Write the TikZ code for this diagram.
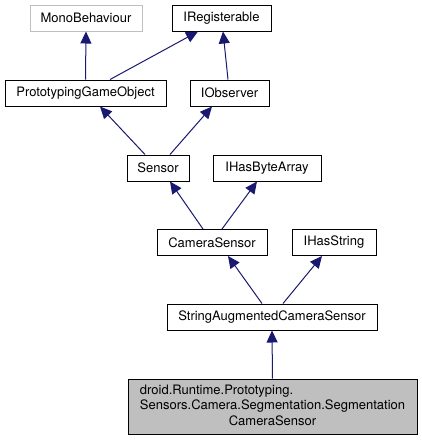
\documentclass[tikz,border=0pt]{standalone}
\usepackage{fontspec}
\setmainfont{TeX Gyre Heros}
\usepackage{tikz}
\usetikzlibrary{arrows.meta,calc}
\usepackage{xcolor}
\definecolor{edgeblue}{RGB}{25,25,112}
\definecolor{boxgray}{RGB}{191,191,191}

\begin{document}
\begin{tikzpicture}[x=1pt,y=-1pt,
    cls/.style={draw=black,line width=1pt,fill=white,inner sep=0pt,
      minimum height=26pt,font=\fontsize{13}{15.5}\selectfont},
    extcls/.style={cls,draw=boxgray},
    inh/.style={edgeblue,line width=1pt,-{Triangle[length=12pt,width=11pt]}}]
        \useasboundingbox (0,0) rectangle (422,440);
        % classes, by row
        \node[extcls,minimum width=112pt] (mono) at (86,18) {MonoBehaviour};
        \node[cls,minimum width=99pt]  (ireg)   at (221.5,18) {IRegisterable};
        \node[cls,minimum width=161pt] (pgo)    at (85.5,93) {PrototypingGameObject};
        \node[cls,minimum width=79pt]  (iobs)   at (229.5,93) {IObserver};
        \node[cls,minimum width=62pt]  (sensor) at (158,168) {Sensor};
        \node[cls,minimum width=108pt] (ibytes) at (267,168) {IHasByteArray};
        \node[cls,minimum width=110pt] (camera) at (212,242.5) {CameraSensor};
        \node[cls,minimum width=84pt]  (istr)   at (334,242.5) {IHasString};
        \node[cls,minimum width=210pt] (sacs)   at (272,317) {StringAugmentedCameraSensor};
        \node[cls,fill=boxgray,minimum width=289pt,minimum height=55pt] (seg) at (272.5,406.5)
          {\begin{tabular}{@{}l@{}}droid.Runtime.Prototyping.\\
            Sensors.Camera.Segmentation.Segmentation\\
            \multicolumn{1}{@{}c@{}}{CameraSensor}\end{tabular}};
        % inheritance
        \draw[inh] (pgo.north) -- (mono.south);
        \draw[inh] ($(pgo.north)+(24.5,0)$) -- ($(ireg.south)+(-23.5,0)$);
        \draw[inh] ($(iobs.north)+(-1.5,0)$) -- ($(ireg.south)+(1.5,0)$);
        \draw[inh] ($(sensor.north)+(-13,0)$) -- ($(pgo.south)+(14.5,0)$);
        \draw[inh] ($(sensor.north)+(12,0)$) -- ($(iobs.south)+(-17.5,0)$);
        \draw[inh] ($(camera.north)+(-9,0)$) -- ($(sensor.south)+(12,0)$);
        \draw[inh] ($(camera.north)+(10,0)$) -- ($(ibytes.south)+(-10,0)$);
        \draw[inh] ($(sacs.north)+(-10,0)$) -- ($(camera.south)+(16,0)$);
        \draw[inh] ($(sacs.north)+(11,0)$) -- ($(istr.south)+(-12,0)$);
        \draw[inh] (seg.north) -- (sacs.south);
      \end{tikzpicture}
\end{document}
